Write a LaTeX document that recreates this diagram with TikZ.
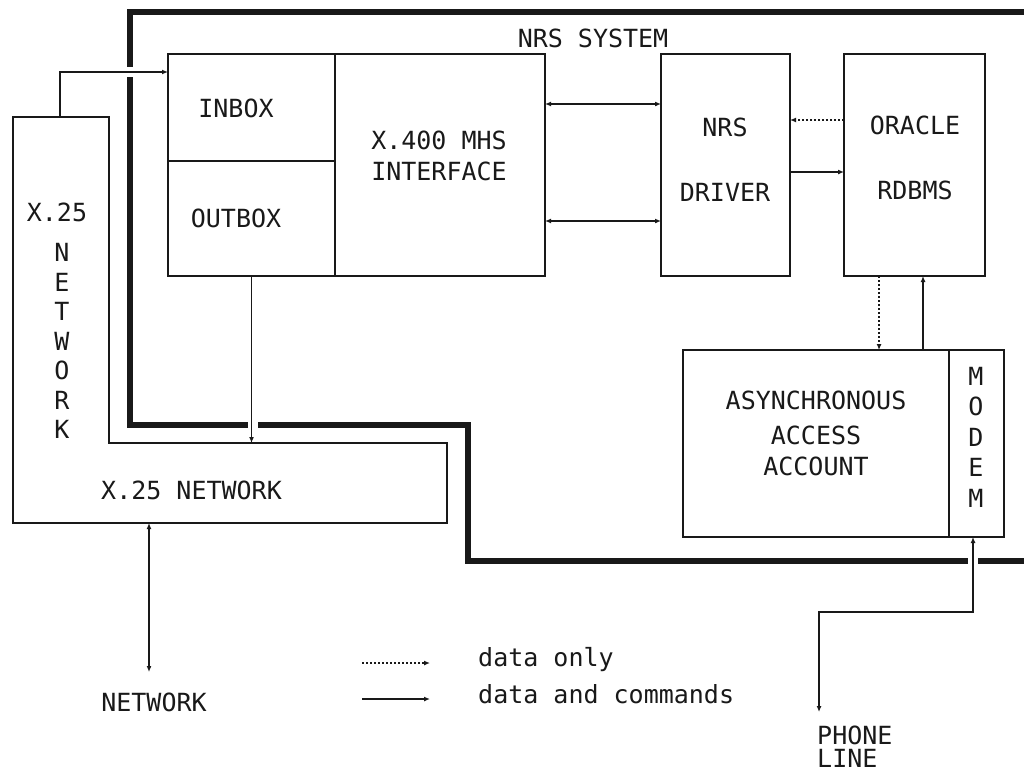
\documentclass[tikz,border=0pt]{standalone}
\usepackage{fontspec}
\newfontfamily\plotfont{DejaVu Sans Mono}
\usetikzlibrary{arrows.meta}
\begin{document}
\begin{tikzpicture}[x=1pt,y=-1pt,
  ink/.style={draw=black!90},
  box/.style={ink, line width=1.3pt, inner sep=0pt, outer sep=0pt, anchor=north west},
  wire/.style={ink, line width=1.3pt},
  arr/.style={wire, -{Latex[length=6pt,width=5pt]}},
  darr/.style={wire, {Latex[length=6pt,width=5pt]}-{Latex[length=6pt,width=5pt]}},
  dotarr/.style={wire, dash pattern=on 1.6pt off 2.4pt, -{Latex[length=6pt,width=5pt]}},
  border/.style={draw=black!90, line width=6pt, line join=miter},
  lbl/.style={font=\plotfont\fontsize{25}{30}\selectfont, text=black!90, inner sep=0pt, align=center},
]
\useasboundingbox[fill=white] (0,0) rectangle (1024,776);

% NRS system border
\draw[border] (1030,12) -- (130,12) -- (130,67);
\draw[border] (130,77) -- (130,425) -- (248,425);
\draw[border] (258,425) -- (468,425) -- (468,561) -- (968,561);
\draw[border] (978,561) -- (1030,561);
\node[lbl] (sys) at (593,38) {NRS SYSTEM};

% boxes
\node[box, minimum width=167pt, minimum height=107pt] (inbox) at (168,54) {};
\node[box, minimum width=167pt, minimum height=115pt] (outbox) at (168,161) {};
\node[box, minimum width=210pt, minimum height=222pt] (mhs) at (335,54) {};
\node[box, minimum width=129pt, minimum height=222pt] (driver) at (661,54) {};
\node[box, minimum width=141pt, minimum height=222pt] (oracle) at (844,54) {};
\node[box, minimum width=266pt, minimum height=187pt] (async) at (683,350) {};
\node[box, minimum width=55pt, minimum height=187pt] (modem) at (949,350) {};

% X.25 network L-shape
\draw[wire] (13,117) -- (109,117) -- (109,443) -- (447,443) -- (447,523) -- (13,523) -- cycle;
\coordinate (x25top) at (60,117);
\coordinate (x25mid) at (0,443);
\coordinate (x25bot) at (149,523);

% texts
\node[lbl] (tin) at (236,108) {INBOX};
\node[lbl] (tout) at (236,218) {OUTBOX};
\node[lbl] (tmhs1) at (439,140) {X.400 MHS};
\node[lbl] (tmhs2) at (439,171) {INTERFACE};
\node[lbl] (tnrs1) at (725,127) {NRS};
\node[lbl] (tnrs2) at (725,192) {DRIVER};
\node[lbl] (tor1) at (915,125) {ORACLE};
\node[lbl] (tor2) at (915,190) {RDBMS};
\node[lbl] (tas1) at (816,400) {ASYNCHRONOUS};
\node[lbl] (tas2) at (816,435) {ACCESS};
\node[lbl] (tas3) at (816,466) {ACCOUNT};
\node[lbl, font=\plotfont\fontsize{25}{30.5}\selectfont] (tmod) at (976,437) {M\\O\\D\\E\\M};
\node[lbl] (tx25) at (57,212) {X.25};
\node[lbl, font=\plotfont\fontsize{25}{29.5}\selectfont] (tnetv) at (62,341) {N\\E\\T\\W\\O\\R\\K};
\node[lbl, anchor=west] (tx25h) at (101,490) {X.25 NETWORK};
\node[lbl] (tnet) at (154,702) {NETWORK};
\node[lbl, anchor=west] (tph1) at (817,735) {PHONE};
\node[lbl, anchor=west] (tph2) at (817,758) {LINE};

% row / column helpers
\coordinate (inY) at (168,72);
\coordinate (r1) at (0,104);
\coordinate (r2) at (0,221);
\coordinate (r3) at (0,120);
\coordinate (r4) at (0,172);
\coordinate (c1) at (879,0);
\coordinate (c2) at (923,0);
\coordinate (bend) at (973,612);
\coordinate (pl) at (819,712);
\coordinate (netend) at (149,672);

% connectors
\draw[arr] (x25top) |- (inY);
\draw[arr] (outbox.south) -- (outbox.south |- x25mid);
\draw[darr] (mhs.east |- r1) -- (driver.west |- r1);
\draw[darr] (mhs.east |- r2) -- (driver.west |- r2);
\draw[dotarr] (oracle.west |- r3) -- (driver.east |- r3);
\draw[arr] (driver.east |- r4) -- (oracle.west |- r4);
\draw[dotarr] (oracle.south -| c1) -- (async.north -| c1);
\draw[arr] (async.north -| c2) -- (oracle.south -| c2);
\draw[darr] (bend |- modem.south) -- (bend) -| (pl);
\draw[darr] (x25bot) -- (netend);

% legend
\coordinate (lg1a) at (362,663);
\coordinate (lg1b) at (430,663);
\coordinate (lg2a) at (362,699);
\coordinate (lg2b) at (430,699);
\draw[dotarr] (lg1a) -- (lg1b);
\draw[arr] (lg2a) -- (lg2b);
\node[lbl, anchor=base west] (tl1) at (478,666) {data only};
\node[lbl, anchor=base west] (tl2) at (478,703) {data and commands};
\end{tikzpicture}
\end{document}
